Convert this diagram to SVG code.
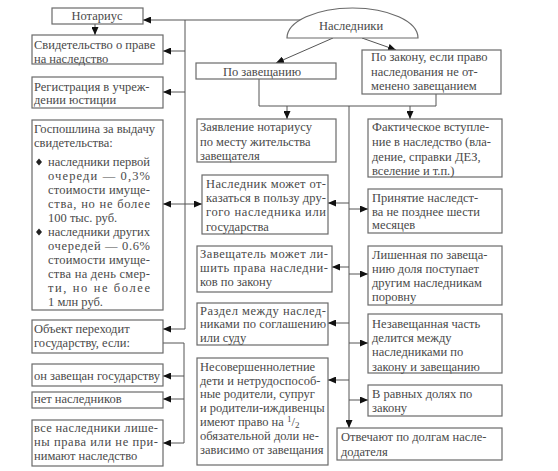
<svg xmlns="http://www.w3.org/2000/svg" width="558" height="471" viewBox="0 0 558 471">
<style>
.box{fill:#fff;stroke:#6a6a6a;stroke-width:1.2}
.t{font-family:"Liberation Serif","Times New Roman",serif;font-size:12.5px;fill:#4a4a4a}
.m{text-anchor:middle}
.c{stroke:#555;stroke-width:1;fill:none}
.a{marker-end:url(#ah)}
.b{marker-start:url(#ahs);marker-end:url(#ah)}
.bul{fill:#222}
</style>
<defs>
<marker id="ah" markerUnits="userSpaceOnUse" markerWidth="9" markerHeight="7" refX="8" refY="3.5" orient="auto"><path d="M0,0 L8,3.5 L0,7 z" fill="#111"/></marker>
<marker id="ahs" markerUnits="userSpaceOnUse" markerWidth="9" markerHeight="7" refX="0" refY="3.5" orient="auto"><path d="M8,0 L0,3.5 L8,7 z" fill="#111"/></marker>
</defs>
<rect width="558" height="471" fill="#fff"/>

<g id="connectors">
<path class="c a" d="M302,20 H143"/>
<path class="c a" d="M95,24 V35"/>
<path class="c" d="M185,20 V329"/>
<path class="c a" d="M185,51 H163"/>
<path class="c a" d="M185,92 H163"/>
<path class="c a" d="M185,329 H163"/>
<path class="c b" d="M163,204 H202"/>
<path class="c" d="M163,343 H184 V443"/>
<path class="c a" d="M184,376 H163"/>
<path class="c a" d="M184,399 H163"/>
<path class="c a" d="M184,443 H163"/>
<path class="c a" d="M333,38 L276,63"/>
<path class="c a" d="M362,38 L396,50"/>
<path class="c" d="M259,79 V106 H436 V94"/>
<path class="c a" d="M287,106 V119"/>
<path class="c a" d="M410,106 V119"/>
<path class="c a" d="M349,106 V428"/>
<path class="c a" d="M349,203 H328"/>
<path class="c a" d="M349,267 H332"/>
<path class="c a" d="M349,323 H328"/>
<path class="c a" d="M349,380 H328"/>
<path class="c a" d="M349,209 H368"/>
<path class="c a" d="M349,274 H368"/>
<path class="c a" d="M349,343 H368"/>
<path class="c a" d="M349,400 H368"/>
</g>

<g id="notarius">
<rect class="box" x="52" y="8" width="91" height="16"/>
<text class="t m" x="97" y="20">Нотариус</text>
</g>
<g id="nasledniki">
<path class="box" d="M287,38 A65.5,30 0 0 1 418,38 Z"/>
<text class="t m" x="351" y="30">Наследники</text>
</g>
<g id="svidetelstvo">
<rect class="box" x="32" y="35" width="131" height="29"/>
<text class="t" x="34" y="49">Свидетельство о праве</text>
<text class="t" x="34" y="63">на наследство</text>
</g>
<g id="registracia">
<rect class="box" x="32" y="77" width="131" height="31"/>
<text class="t" x="34" y="91">Регистрация в учреж-</text>
<text class="t" x="34" y="104">дении юстиции</text>
</g>
<g id="gosposhlina">
<rect class="box" x="32" y="120" width="131" height="190"/>
<text class="t" x="34" y="133">Госпошлина за выдачу</text>
<text class="t" x="34" y="147">свидетельства:</text>
<path class="bul" d="M39,158.5 L42,162 L39,165.5 L36,162 Z"/>
<text class="t" x="48" y="166" textLength="102" lengthAdjust="spacing">наследники первой</text>
<text class="t" x="48" y="180" textLength="102" lengthAdjust="spacing">очереди — 0,3%</text>
<text class="t" x="48" y="194" textLength="102" lengthAdjust="spacing">стоимости имуще-</text>
<text class="t" x="48" y="208" textLength="102" lengthAdjust="spacing">ства, но не более</text>
<text class="t" x="48" y="222">100 тыс. руб.</text>
<path class="bul" d="M39,228.5 L42,232 L39,235.5 L36,232 Z"/>
<text class="t" x="48" y="236" textLength="102" lengthAdjust="spacing">наследники других</text>
<text class="t" x="48" y="250" textLength="102" lengthAdjust="spacing">очередей — 0.6%</text>
<text class="t" x="48" y="264" textLength="102" lengthAdjust="spacing">стоимости имуще-</text>
<text class="t" x="48" y="278" textLength="102" lengthAdjust="spacing">ства на день смер-</text>
<text class="t" x="48" y="292" textLength="102" lengthAdjust="spacing">ти, но не более</text>
<text class="t" x="48" y="306">1 млн руб.</text>
</g>
<g id="obekt">
<rect class="box" x="32" y="320" width="131" height="33"/>
<text class="t" x="34" y="333">Объект переходит</text>
<text class="t" x="34" y="347">государству, если:</text>
</g>
<g id="zaveshan">
<rect class="box" x="32" y="364" width="131" height="22"/>
<text class="t" x="34" y="380" textLength="126" lengthAdjust="spacingAndGlyphs">он завещан государству</text>
</g>
<g id="net">
<rect class="box" x="32" y="392" width="131" height="16"/>
<text class="t" x="34" y="403">нет наследников</text>
</g>
<g id="vse">
<rect class="box" x="32" y="420" width="131" height="46"/>
<text class="t" x="34" y="432" textLength="124" lengthAdjust="spacing">все наследники лише-</text>
<text class="t" x="34" y="446" textLength="124" lengthAdjust="spacing">ны права или не при-</text>
<text class="t" x="34" y="460">нимают наследство</text>
</g>
<g id="po-zaveshaniu">
<rect class="box" x="196" y="63" width="140" height="16"/>
<text class="t m" x="262" y="76">По завещанию</text>
</g>
<g id="po-zakonu">
<rect class="box" x="362" y="50" width="139" height="44"/>
<text class="t" x="371" y="61">По закону, если право</text>
<text class="t" x="371" y="76">наследования не от-</text>
<text class="t" x="371" y="90">менено завещанием</text>
</g>
<g id="zayavlenie">
<rect class="box" x="197" y="119" width="139" height="43"/>
<text class="t" x="200" y="131">Заявление нотариусу</text>
<text class="t" x="200" y="146">по месту жительства</text>
<text class="t" x="200" y="160">завещателя</text>
</g>
<g id="naslednik">
<rect class="box" x="202" y="175" width="126" height="59"/>
<text class="t" x="206" y="188" textLength="120" lengthAdjust="spacing">Наследник может от-</text>
<text class="t" x="206" y="202" textLength="120" lengthAdjust="spacing">казаться в пользу дру-</text>
<text class="t" x="206" y="216" textLength="120" lengthAdjust="spacing">гого наследника или</text>
<text class="t" x="206" y="231">государства</text>
</g>
<g id="zaveshatel">
<rect class="box" x="197" y="246" width="135" height="46"/>
<text class="t" x="200" y="258" textLength="128" lengthAdjust="spacing">Завещатель может ли-</text>
<text class="t" x="200" y="272" textLength="128" lengthAdjust="spacing">шить права наследни-</text>
<text class="t" x="200" y="286">ков по закону</text>
</g>
<g id="razdel">
<rect class="box" x="197" y="303" width="131" height="42"/>
<text class="t" x="200" y="315" textLength="126" lengthAdjust="spacing">Раздел между наслед-</text>
<text class="t" x="200" y="328" textLength="126" lengthAdjust="spacing">никами по соглашению</text>
<text class="t" x="200" y="342">или суду</text>
</g>
<g id="nesovershennoletnie">
<rect class="box" x="197" y="358" width="131" height="107"/>
<text class="t" x="200" y="371">Несовершеннолетние</text>
<text class="t" x="200" y="385">дети и нетрудоспособ-</text>
<text class="t" x="200" y="398">ные родители, супруг</text>
<text class="t" x="200" y="412">и родители-иждивенцы</text>
<text class="t" x="200" y="426">имеют право на <tspan font-size="9" dy="-4">1</tspan><tspan dy="4">/</tspan><tspan font-size="9" dy="2">2</tspan></text>
<text class="t" x="200" y="440">обязательной доли не-</text>
<text class="t" x="200" y="454">зависимо от завещания</text>
</g>
<g id="fakticheskoe">
<rect class="box" x="368" y="119" width="134" height="58"/>
<text class="t" x="372" y="131">Фактическое вступле-</text>
<text class="t" x="372" y="146">ние в наследство (вла-</text>
<text class="t" x="372" y="161">дение, справки ДЕЗ,</text>
<text class="t" x="372" y="175">вселение и т.п.)</text>
</g>
<g id="prinyatie">
<rect class="box" x="368" y="189" width="134" height="44"/>
<text class="t" x="372" y="202">Принятие наследст-</text>
<text class="t" x="372" y="216">ва не позднее шести</text>
<text class="t" x="372" y="229">месяцев</text>
</g>
<g id="lishennaya">
<rect class="box" x="368" y="246" width="134" height="59"/>
<text class="t" x="372" y="259">Лишенная по завеща-</text>
<text class="t" x="372" y="273">нию доля поступает</text>
<text class="t" x="372" y="287">другим наследникам</text>
<text class="t" x="372" y="301">поровну</text>
</g>
<g id="nezaveshannaya">
<rect class="box" x="368" y="314" width="134" height="59"/>
<text class="t" x="372" y="328">Незавещанная часть</text>
<text class="t" x="372" y="342">делится между</text>
<text class="t" x="372" y="356">наследниками по</text>
<text class="t" x="372" y="371">закону и завещанию</text>
</g>
<g id="ravnye">
<rect class="box" x="368" y="385" width="134" height="31"/>
<text class="t" x="372" y="398">В равных долях по</text>
<text class="t" x="372" y="412">закону</text>
</g>
<g id="otvechayut">
<rect class="box" x="337" y="428" width="165" height="32"/>
<text class="t" x="341" y="441">Отвечают по долгам насле-</text>
<text class="t" x="341" y="456">додателя</text>
</g>
</svg>
